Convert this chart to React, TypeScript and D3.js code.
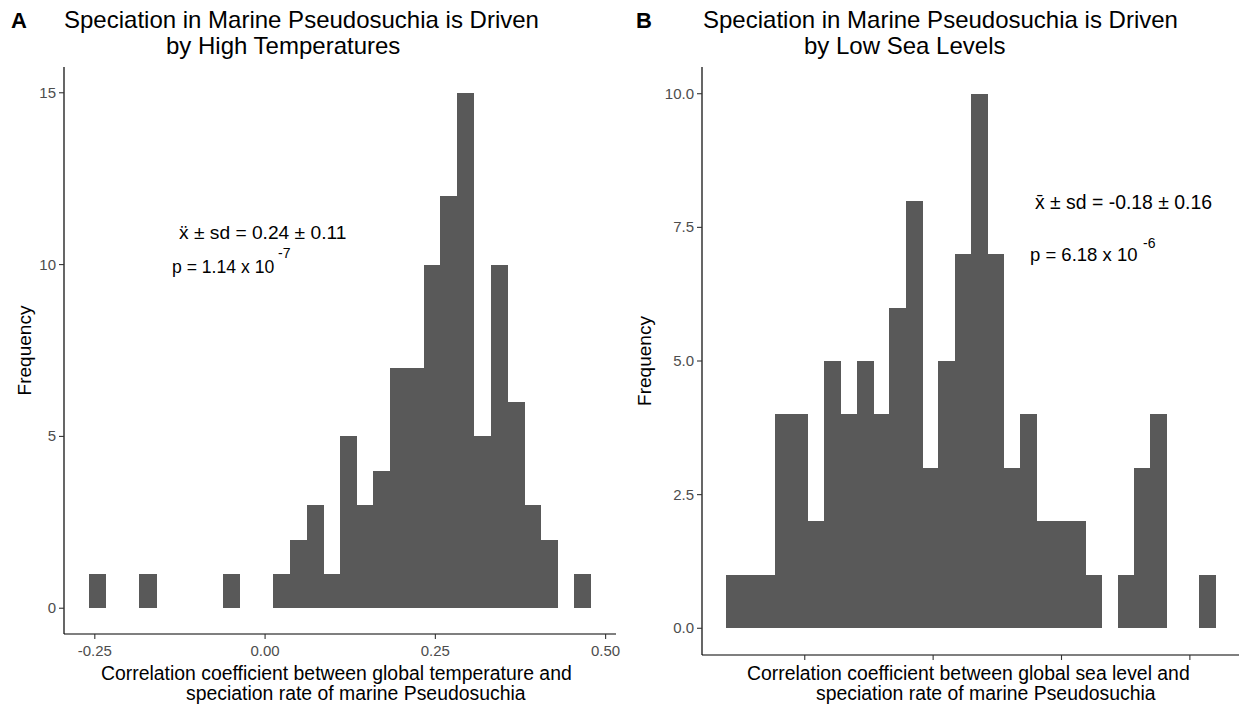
import * as d3 from "d3";

// panel A: 30 bins, correlation with global temperature
const binStartA = -0.2584;
const binWidthA = 0.02456;
const countsA = [1, 0, 0, 1, 0, 0, 0, 0, 1, 0, 0, 1, 2, 3, 1, 5, 3, 4, 7, 7, 10, 12, 15, 5, 10, 6, 3, 2, 0, 1];
const xTicksA = [-0.25, 0, 0.25, 0.5];
const xTickLabelsA = ["-0.25", "0.00", "0.25", "0.50"];
const yTicksA = [0, 5, 10, 15];
const yTickLabelsA = ["0", "5", "10", "15"];

// panel B: 30 bins, correlation with global sea level
const binStartB = -0.522;
const binWidthB = 0.0254;
const countsB = [1, 1, 1, 4, 4, 2, 5, 4, 5, 4, 6, 8, 3, 5, 7, 10, 7, 3, 4, 2, 2, 2, 1, 0, 1, 3, 4, 0, 0, 1];
const xTicksB = [-0.4, -0.2, 0, 0.2];
const yTicksB = [0, 2.5, 5, 7.5, 10];
const yTickLabelsB = ["0.0", "2.5", "5.0", "7.5", "10.0"];

const FONT = "'Liberation Sans', Arial, sans-serif";
const BAR = "#595959";

interface PanelProps {
  letter: string;
  letterX: number;
  title1: string;
  title2: string;
  title1X: number;
  title2X: number;
  binStart: number;
  binWidth: number;
  counts: number[];
  xRange: [number, number];
  yRange: [number, number];
  xTicks: number[];
  xTickLabels: string[] | null;
  yTicks: number[];
  yTickLabels: string[];
  xTitle1: string;
  xTitle2: string;
  xTitle1X: number;
  xTitle2X: number;
  freqX: number;
  note1: string;
  note1X: number;
  note1Y: number;
  note1Size: number;
  note2: string;
  note2X: number;
  note2Y: number;
  note2Size: number;
  supText: string;
  supX: number;
  supY: number;
}

function Histogram(p: PanelProps) {
  const binEnd = p.binStart + p.counts.length * p.binWidth;
  const padX = (binEnd - p.binStart) * 0.05;
  const maxCount = d3.max(p.counts) ?? 0;
  const x = d3.scaleLinear().domain([p.binStart - padX, binEnd + padX]).range(p.xRange);
  const y = d3.scaleLinear().domain([-maxCount * 0.05, maxCount * 1.05]).range(p.yRange);
  const bins = p.counts.map((c, i) => ({
    x0: p.binStart + i * p.binWidth,
    x1: p.binStart + (i + 1) * p.binWidth,
    c,
  }));
  const [x0, x1] = p.xRange;
  const [yb, yt] = p.yRange;
  const midY = (yb + yt) / 2;

  return (
    <g fontFamily={FONT}>
      <text x={p.letterX} y={28} fontSize={22} fontWeight="bold" fill="#000">
        {p.letter}
      </text>
      <text x={p.title1X} y={28} fontSize={24} fill="#000">
        {p.title1}
      </text>
      <text x={p.title2X} y={54} fontSize={24} fill="#000">
        {p.title2}
      </text>

      <g shapeRendering="crispEdges">
        {bins
          .filter((b) => b.c > 0)
          .map((b, i) => (
            <rect
              key={i}
              x={x(b.x0)}
              y={y(b.c)}
              width={x(b.x1) - x(b.x0) + 0.5}
              height={y(0) - y(b.c)}
              fill={BAR}
            />
          ))}
      </g>

      <line x1={x0} x2={x0} y1={yt} y2={yb} stroke="#000" strokeWidth={1.2} />
      <line x1={x0} x2={x1} y1={yb} y2={yb} stroke="#000" strokeWidth={1.2} />

      {p.yTicks.map((t, i) => (
        <g key={`y-${t}`}>
          <line x1={x0 - 5} x2={x0} y1={y(t)} y2={y(t)} stroke="#333" strokeWidth={1.1} />
          <text x={x0 - 8} y={y(t) + 5} textAnchor="end" fontSize={15} fill="#4d4d4d">
            {p.yTickLabels[i]}
          </text>
        </g>
      ))}
      {p.xTicks.map((t, i) => (
        <g key={`x-${t}`}>
          <line x1={x(t)} x2={x(t)} y1={yb} y2={yb + 5} stroke="#333" strokeWidth={1.1} />
          {p.xTickLabels && (
            <text x={x(t)} y={yb + 22} textAnchor="middle" fontSize={15} fill="#4d4d4d">
              {p.xTickLabels[i]}
            </text>
          )}
        </g>
      ))}

      <text x={p.xTitle1X} y={680} fontSize={19.4} fill="#000">
        {p.xTitle1}
      </text>
      <text x={p.xTitle2X} y={700} fontSize={19.4} fill="#000">
        {p.xTitle2}
      </text>
      <text
        transform={`translate(${p.freqX}, ${midY}) rotate(-90)`}
        textAnchor="middle"
        fontSize={19}
        fill="#000"
      >
        Frequency
      </text>

      <text x={p.note1X} y={p.note1Y} fontSize={p.note1Size} fill="#000">
        {p.note1}
      </text>
      <text x={p.note2X} y={p.note2Y} fontSize={p.note2Size} fill="#000">
        {p.note2}
      </text>
      <text x={p.supX} y={p.supY} fontSize={14} fill="#000">
        {p.supText}
      </text>
    </g>
  );
}

export default function App() {
  return (
    <svg
      width={1239}
      height={708}
      viewBox="0 0 1239 708"
      style={{ position: "absolute", left: 0, top: 0, background: "#fff" }}
    >
      <rect width={1239} height={708} fill="#fff" />
      <Histogram
        letter="A"
        letterX={11}
        title1="Speciation in Marine Pseudosuchia is Driven"
        title2="by High Temperatures"
        title1X={64}
        title2X={166}
        binStart={binStartA}
        binWidth={binWidthA}
        counts={countsA}
        xRange={[64, 616]}
        yRange={[634, 67]}
        xTicks={xTicksA}
        xTickLabels={xTickLabelsA}
        yTicks={yTicksA}
        yTickLabels={yTickLabelsA}
        xTitle1="Correlation coefficient between global temperature and"
        xTitle2="speciation rate of marine Pseudosuchia"
        xTitle1X={101}
        xTitle2X={186}
        freqX={31}
        note1={"\u1E8D \u00B1 sd = 0.24 \u00B1 0.11"}
        note1X={179}
        note1Y={239}
        note1Size={19.2}
        note2="p = 1.14 x 10"
        note2X={172}
        note2Y={273}
        note2Size={17.6}
        supText="-7"
        supX={278}
        supY={258}
      />
      <Histogram
        letter="B"
        letterX={636}
        title1="Speciation in Marine Pseudosuchia is Driven"
        title2="by Low Sea Levels"
        title1X={703}
        title2X={804}
        binStart={binStartB}
        binWidth={binWidthB}
        counts={countsB}
        xRange={[702, 1240]}
        yRange={[655, 67]}
        xTicks={xTicksB}
        xTickLabels={null}
        yTicks={yTicksB}
        yTickLabels={yTickLabelsB}
        xTitle1="Correlation coefficient between global sea level and"
        xTitle2="speciation rate of marine Pseudosuchia"
        xTitle1X={747}
        xTitle2X={816}
        freqX={651}
        note1={"x\u0304 \u00B1 sd = -0.18 \u00B1 0.16"}
        note1X={1035}
        note1Y={209}
        note1Size={19.4}
        note2="p = 6.18 x 10"
        note2X={1030}
        note2Y={261}
        note2Size={18.5}
        supText="-6"
        supX={1143}
        supY={248}
      />
    </svg>
  );
}
